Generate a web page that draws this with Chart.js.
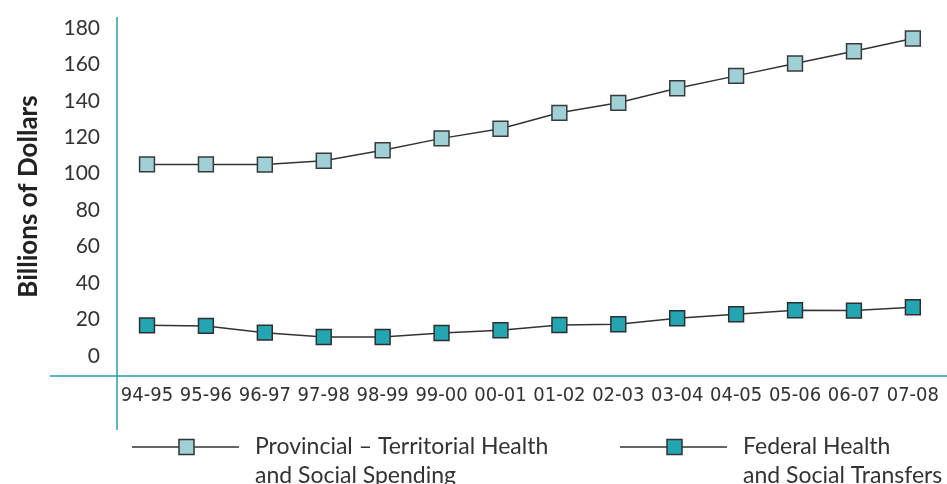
<!DOCTYPE html>
<html>
<head>
<meta charset="utf-8">
<script src="https://cdn.jsdelivr.net/npm/chart.js@4"></script>
<style>
  body { margin: 0; background: #fff; }
  #wrap { width: 947px; height: 484px; }
</style>
</head>
<body>
<div id="wrap"><canvas id="chart" width="947" height="484"></canvas></div>
<script>
// fiscal years
const years = ['94-95', '95-96', '96-97', '97-98', '98-99', '99-00', '00-01',
               '01-02', '02-03', '03-04', '04-05', '05-06', '06-07', '07-08'];

// billions of dollars
const provincialSpending = [105.1, 105.1, 105.0, 107.1, 112.9, 119.4, 124.7,
                            133.4, 138.9, 146.9, 153.7, 160.5, 167.2, 174.2];
const federalTransfers = [16.8, 16.5, 12.8, 10.4, 10.4, 12.6, 14.1,
                          17.0, 17.4, 20.7, 22.9, 25.1, 24.9, 26.7];

const yTicks = [0, 20, 40, 60, 80, 100, 120, 140, 160, 180];

const legendLines = [
    ['Provincial \u2013 Territorial Health', 'and Social Spending'],
    ['Federal Health', 'and Social Transfers']
];

const axisColor = '#2a9fad';
const textColor = '#333333';

// teal axis lines that run past the plot area
const axisLines = {
    id: 'axisLines',
    beforeDatasetsDraw(chart) {
        const ctx = chart.ctx;
        const area = chart.chartArea;
        ctx.save();
        ctx.strokeStyle = axisColor;
        ctx.lineWidth = 1.5;
        ctx.beginPath();
        ctx.moveTo(50, area.bottom);
        ctx.lineTo(chart.width, area.bottom);
        ctx.moveTo(area.left - 30, area.top);
        ctx.lineTo(area.left - 30, area.bottom + 54);
        ctx.stroke();
        ctx.restore();
    }
};

// two-line legend under the axis
const legendBelow = {
    id: 'legendBelow',
    afterDraw(chart) {
        const ctx = chart.ctx;
        const items = [
            { x: 132, ds: chart.data.datasets[0], text: legendLines[0] },
            { x: 620, ds: chart.data.datasets[1], text: legendLines[1] }
        ];
        const y = 447;
        ctx.save();
        items.forEach(it => {
            ctx.strokeStyle = '#333';
            ctx.lineWidth = 1.5;
            ctx.beginPath();
            ctx.moveTo(it.x, y);
            ctx.lineTo(it.x + 107, y);
            ctx.stroke();
            ctx.fillStyle = it.ds.pointBackgroundColor;
            ctx.fillRect(it.x + 47, y - 7.5, 15, 15);
            ctx.strokeRect(it.x + 47, y - 7.5, 15, 15);
            ctx.fillStyle = textColor;
            ctx.font = '23px Lato';
            ctx.textBaseline = 'middle';
            ctx.fillText(it.text[0], it.x + 123, y);
            ctx.fillText(it.text[1], it.x + 123, y + 29);
        });
        ctx.restore();
    }
};

new Chart(document.getElementById('chart').getContext('2d'), {
    type: 'line',
    data: {
        labels: years,
        datasets: [{
            label: legendLines[0].join(' '),
            data: provincialSpending,
            borderColor: '#333333',
            borderWidth: 1.5,
            pointStyle: 'rect',
            pointRadius: 10.5,
            pointBackgroundColor: '#9fd0d6',
            pointBorderColor: '#3a3a3a',
            pointBorderWidth: 1.5,
            tension: 0
        }, {
            label: legendLines[1].join(' '),
            data: federalTransfers,
            borderColor: '#333333',
            borderWidth: 1.5,
            pointStyle: 'rect',
            pointRadius: 10.5,
            pointBackgroundColor: '#23a6b1',
            pointBorderColor: '#2f2f2f',
            pointBorderWidth: 1.5,
            tension: 0
        }]
    },
    options: {
        responsive: false,
        animation: false,
        layout: { autoPadding: false, padding: { top: 17, right: 27, left: 0, bottom: 0 } },
        plugins: {
            legend: { display: false },
            tooltip: { enabled: false }
        },
        scales: {
            x: {
                offset: false,
                grid: { display: false, drawTicks: false },
                border: { display: false },
                ticks: {
                    color: textColor,
                    padding: 8,
                    maxRotation: 0,
                    autoSkip: false,
                    font: { family: "'Liberation Sans Narrow', 'DejaVu Sans Condensed', sans-serif", size: 20 }
                },
                afterFit(scale) { scale.height = 108; }
            },
            y: {
                min: -11,
                max: 186,
                grid: { display: false, drawTicks: false },
                border: { display: false },
                afterBuildTicks(scale) { scale.ticks = yTicks.map(v => ({ value: v })); },
                ticks: {
                    color: textColor,
                    padding: 47,
                    font: { family: 'Lato', size: 21 }
                },
                title: {
                    display: true,
                    text: 'Billions of Dollars',
                    color: '#222',
                    padding: { top: 13, bottom: 0 },
                    font: { family: 'Lato', size: 26, weight: 'bold' }
                },
                afterFit(scale) {
                    scale.width = 147;
                    // the big tick padding is only meant to push labels left
                    scale.paddingTop = 0;
                    scale.paddingBottom = 0;
                }
            }
        }
    },
    plugins: [axisLines, legendBelow]
});
</script>
</body>
</html>
